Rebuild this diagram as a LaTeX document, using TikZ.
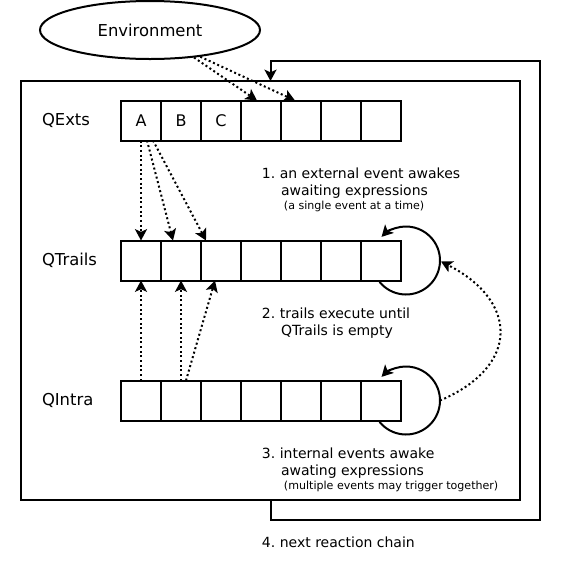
\documentclass[tikz,border=0pt]{standalone}
\usepackage{fontspec}
\setmainfont{DejaVu Sans}
\frenchspacing
\usetikzlibrary{arrows.meta, positioning, calc, shapes.geometric}

\begin{document}
\begin{tikzpicture}[
    x=0.75pt, y=0.75pt,
    >={Stealth[length=8.5pt, width=9pt, inset=2pt]},
    line width=1.5pt,
    node distance=0pt,
    envbox/.style={draw, ellipse, minimum width=165pt, minimum height=43.5pt, font=\fontsize{12.3}{14}\selectfont},
    chainbox/.style={draw, minimum width=374.25pt, minimum height=314.25pt, outer sep=0pt},
    cell/.style={draw, fill=white, minimum size=30pt, inner sep=0pt, outer sep=0pt, font=\fontsize{12}{14}\selectfont},
    qlabel/.style={anchor=west, inner sep=0pt, font=\fontsize{12.3}{14}\selectfont},
    stepnote/.style={anchor=north west, align=left, inner sep=0pt, font=\fontsize{10.5}{13}\selectfont},
    dotflow/.style={->, dotted},
]
    \useasboundingbox (0,0) rectangle (562,-562);

    % Environment
    \node[envbox] (env) at (150,-30) {Environment};

    % Reaction chain frame, back to the next one
    \node[chainbox] (chain) at (270.5,-290.5) {};
    \draw[->] (chain.south) -- ++(0,-20) -| ($(chain.north east)+(20,20)$) -| (chain.north);

    % QExts
    \node[qlabel] (lext) at (41,-120.5) {QExts};
    \node[cell] (ex1) at (141,-120.5) {A}; \node[cell, right=of ex1] (ex2) {B}; \node[cell, right=of ex2] (ex3) {C};
    \node[cell, right=of ex3] (ex4) {}; \node[cell, right=of ex4] (ex5) {};
    \node[cell, right=of ex5] (ex6) {}; \node[cell, right=of ex6] (ex7) {};

    % QTrails
    \node[qlabel] (ltr) at (41,-260.5) {QTrails};
    \node[cell] (tr1) at (141,-260.5) {}; \node[cell, right=of tr1] (tr2) {}; \node[cell, right=of tr2] (tr3) {};
    \node[cell, right=of tr3] (tr4) {}; \node[cell, right=of tr4] (tr5) {};
    \node[cell, right=of tr5] (tr6) {}; \node[cell, right=of tr6] (tr7) {};

    % QIntra
    \node[qlabel] (lin) at (41,-400.5) {QIntra};
    \node[cell] (in1) at (141,-400.5) {}; \node[cell, right=of in1] (in2) {}; \node[cell, right=of in2] (in3) {};
    \node[cell, right=of in3] (in4) {}; \node[cell, right=of in4] (in5) {};
    \node[cell, right=of in5] (in6) {}; \node[cell, right=of in6] (in7) {};

    % Environment feeds QExts
    \draw[dotflow] (env.-32) -- ([xshift=-3pt]ex4.north);
    \draw[dotflow] (env.-28) -- ([xshift=-4.5pt]ex5.north);

    % awaking trails
    \draw[dotflow] (ex1.south) -- (tr1.north);
    \draw[dotflow] ([xshift=4.5pt]ex1.south) -- ([xshift=-6pt]tr2.north);
    \draw[dotflow] ([xshift=9pt]ex1.south) -- ([xshift=-11.25pt]tr3.north);
    \draw[dotflow] (in1.north) -- (tr1.south);
    \draw[dotflow] (in2.north) -- (tr2.south);
    \draw[dotflow] ([xshift=3.75pt]in2.north) -- ([xshift=-4.5pt]tr3.south);

    % self loops
    \coordinate (trloop) at ($(tr7)+(25,0)$);
    \coordinate (inloop) at ($(in7)+(25,0)$);
    \draw[->] (trloop) ++(-141:34) arc[start angle=-141, end angle=136, radius=25.5pt];
    \draw[->] (inloop) ++(-141:34) arc[start angle=-141, end angle=136, radius=25.5pt];
    \draw[dotflow] ($(inloop)+(34,0)$) to[out=23, in=-27, looseness=1.6] ($(trloop)+(35,-1)$);

    % steps
    \node[stepnote] (step1) at (261,-167) {1. an external event awakes\\
        \hspace*{14.25pt}awaiting expressions\\[-2.5pt]
        \hspace*{16.5pt}{\fontsize{8.3}{10}\selectfont(a single event at a time)}};
    \node[stepnote] (step2) at (261,-307) {2. trails execute until\\
        \hspace*{14.25pt}QTrails is empty};
    \node[stepnote] (step3) at (261,-447) {3. internal events awake\\
        \hspace*{14.25pt}awating expressions\\[-2.5pt]
        \hspace*{16.5pt}{\fontsize{8.3}{10}\selectfont(multiple events may trigger together)}};
    \node[stepnote] (step4) at (261,-535.5) {4. next reaction chain};
\end{tikzpicture}
\end{document}
